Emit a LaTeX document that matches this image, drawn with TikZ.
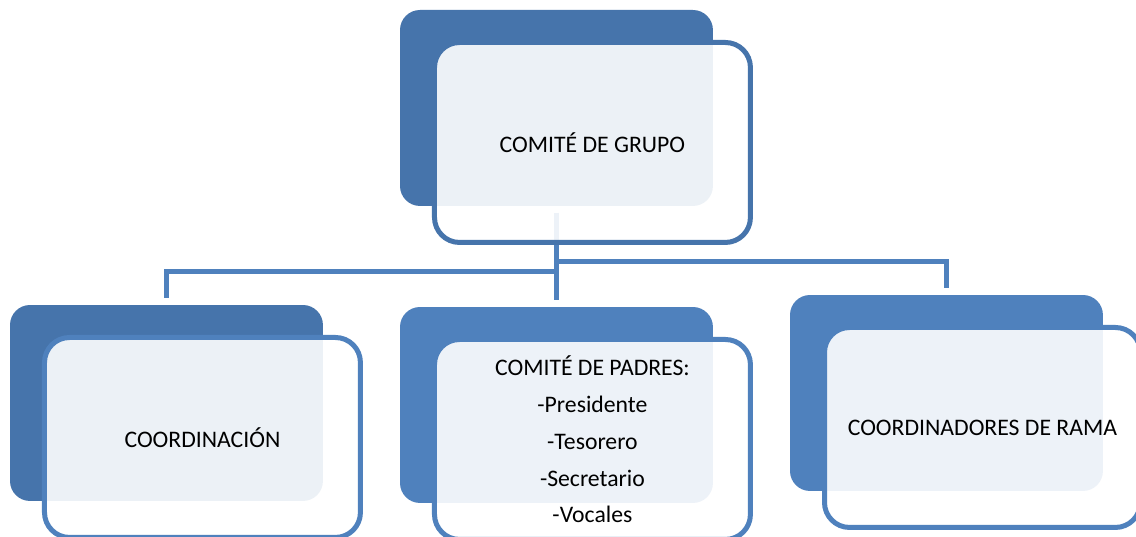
\documentclass[tikz,border=0pt]{standalone}
\usepackage{fontspec}
\setmainfont{Carlito}
\usetikzlibrary{positioning}
\definecolor{kdarkblue}{RGB}{70,116,171}
\definecolor{kblue}{RGB}{79,129,189}

\begin{document}
\begin{tikzpicture}[x=0.02cm, y=-0.02cm,
        back/.style={rectangle, rounded corners=0.4cm, anchor=north west,
              minimum width=6.26cm, minimum height=3.92cm,
              inner sep=0pt, outer sep=0pt},
        front/.style={rectangle, rounded corners=0.5cm,
              minimum width=6.32cm, minimum height=4cm,
              line width=0.1cm, fill=white, fill opacity=0.9, text opacity=1,
              align=center, font=\fontsize{13.5}{20.9}\selectfont,
              inner sep=0pt, outer sep=0pt},
        link/.style={draw=kblue, line width=0.1cm,
              shorten <=0.14cm, shorten >=0.14cm}]
        \useasboundingbox[fill=white] (0,0) rectangle (1136,537);

        % back boxes
        \node[back, fill=kdarkblue] (grupob) at (400,10) {};
        \node[back, fill=kdarkblue] (coordb) at (10,305) {};
        \node[back, fill=kblue] (padresb) at (400,307) {};
        \node[back, fill=kblue] (ramab) at (790,295) {};

        % links
        \draw[link] (grupob.south) -- ++(0,66) -| (coordb.north);
        \draw[link] (grupob.south) -- (padresb.north);
        \draw[link] (grupob.south) -- ++(0,56) -| (ramab.north);

        % front boxes
        \node[front, draw=kdarkblue, below right=0.65cm and 0.69cm of grupob.north west]
              (grupo) {COMITÉ DE GRUPO};
        \node[front, draw=kblue, below right=0.65cm and 0.69cm of coordb.north west]
              (coord) {COORDINACIÓN};
        \node[front, draw=kblue, below right=0.65cm and 0.69cm of padresb.north west]
              (padres) {COMITÉ DE PADRES:\\-Presidente\\-Tesorero\\-Secretario\\-Vocales};
        \node[front, draw=kblue, below right=0.65cm and 0.69cm of ramab.north west]
              (rama) {COORDINADORES DE RAMA};

%        \draw[help lines, step=10] (0,0) grid (1136,537);
    \end{tikzpicture}
\end{document}
